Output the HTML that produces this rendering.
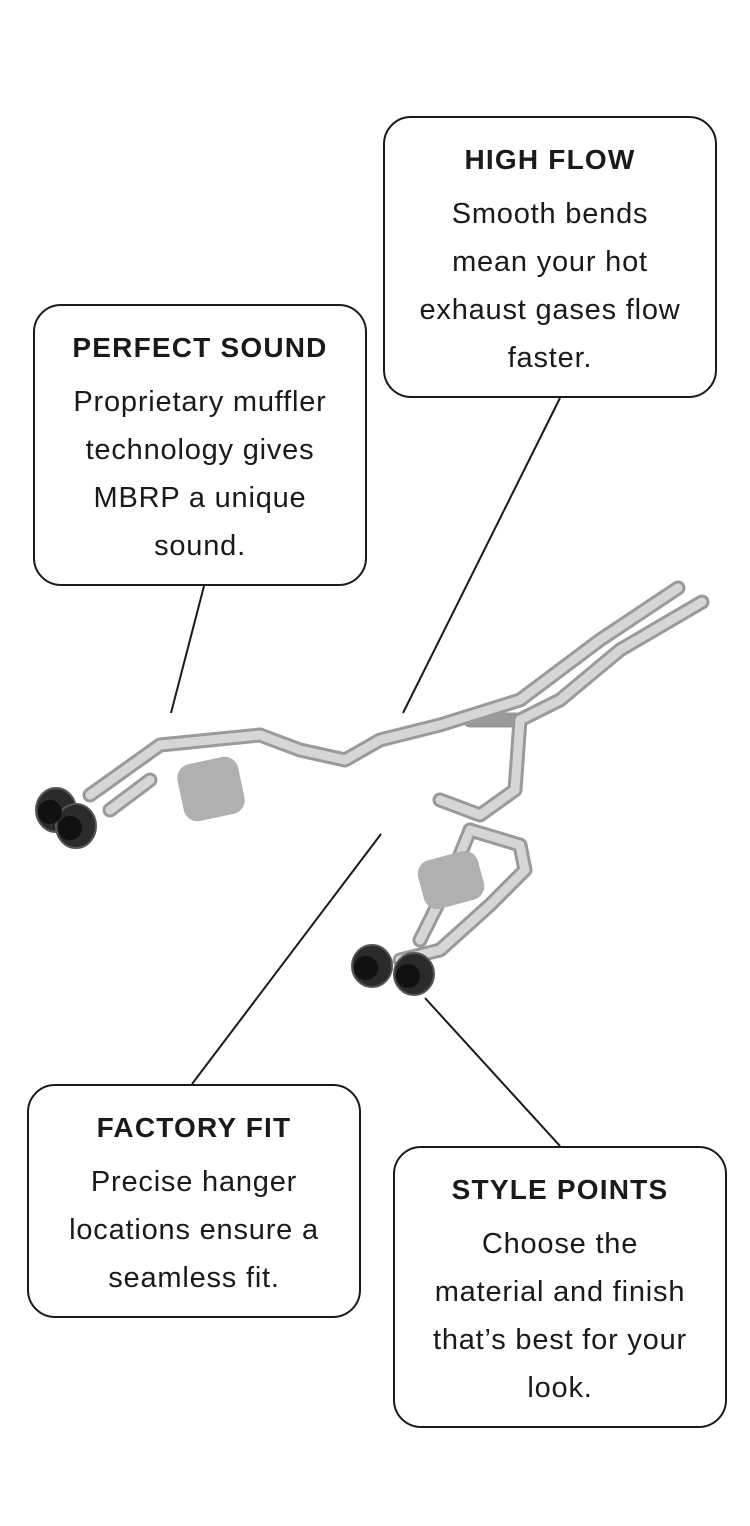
<!DOCTYPE html>
<html><head><meta charset="utf-8"><style>
body{margin:0;background:#fff;width:750px;height:1526px;position:relative;overflow:hidden;font-family:"Liberation Sans",sans-serif;color:#1a1a1a}
.b{position:absolute;border:2px solid #1a1a1a;border-radius:28px;box-sizing:border-box;background:#fff;text-align:center}
.b h3{margin:0;font-size:28px;font-weight:bold;line-height:48px;margin-top:18px;letter-spacing:1.2px}
.b p{margin:0;font-size:29px;line-height:48px;margin-top:6px;letter-spacing:0.8px}
svg{position:absolute;left:0;top:0}
</style></head><body>
<svg width="750" height="1526">
<g stroke="#1a1a1a" stroke-width="2" fill="none">
<line x1="204" y1="586" x2="171" y2="713"/>
<line x1="560" y1="398" x2="403" y2="713"/>
<line x1="381" y1="834" x2="192" y2="1084"/>
<line x1="425" y1="998" x2="560" y2="1146"/>
</g>
<g fill="none" stroke-linecap="round" stroke-linejoin="round">
<g stroke="#9a9a9a" stroke-width="15">
<path d="M678 588 L600 640 L520 700 L440 725 L380 740 L345 760 L300 750 L260 735 L160 745 L90 795"/>
<path d="M702 602 L620 650 L560 700 L520 720 L515 790 L480 815 L440 800"/>
<path d="M520 720 L470 720"/>
<path d="M470 830 L520 845 L525 870 L490 905 L440 950 L400 960"/>
<path d="M470 830 L450 880 L420 940"/>
<path d="M150 780 L110 810"/>
</g>
<g stroke="#d6d6d6" stroke-width="9">
<path d="M678 588 L600 640 L520 700 L440 725 L380 740 L345 760 L300 750 L260 735 L160 745 L90 795"/>
<path d="M702 602 L620 650 L560 700 L520 720 L515 790 L480 815 L440 800"/>
<path d="M470 830 L520 845 L525 870 L490 905 L440 950 L400 960"/>
<path d="M470 830 L450 880 L420 940"/>
<path d="M150 780 L110 810"/>
</g>
</g>
<g fill="#b0b0b0">
<rect x="180" y="760" width="62" height="58" rx="14" transform="rotate(-12 211 789)"/>
<rect x="420" y="855" width="62" height="50" rx="14" transform="rotate(-15 451 880)"/>
</g>
<g fill="#2a2a2a" stroke="#555" stroke-width="2">
<ellipse cx="56" cy="810" rx="20" ry="22"/>
<ellipse cx="76" cy="826" rx="20" ry="22"/>
<ellipse cx="372" cy="966" rx="20" ry="21"/>
<ellipse cx="414" cy="974" rx="20" ry="21"/>
</g>
<g fill="#111"><circle cx="50" cy="812" r="12"/><circle cx="70" cy="828" r="12"/><circle cx="366" cy="968" r="12"/><circle cx="408" cy="976" r="12"/></g>
</svg>
<div class="b" style="left:383px;top:116px;width:334px;height:282px"><h3>HIGH FLOW</h3><p>Smooth bends<br>mean your hot<br>exhaust gases flow<br>faster.</p></div>
<div class="b" style="left:33px;top:304px;width:334px;height:282px"><h3>PERFECT SOUND</h3><p>Proprietary muffler<br>technology gives<br>MBRP a unique<br>sound.</p></div>
<div class="b" style="left:27px;top:1084px;width:334px;height:234px"><h3>FACTORY FIT</h3><p>Precise hanger<br>locations ensure a<br>seamless fit.</p></div>
<div class="b" style="left:393px;top:1146px;width:334px;height:282px"><h3>STYLE POINTS</h3><p>Choose the<br>material and finish<br>that’s best for your<br>look.</p></div>
</body></html>
